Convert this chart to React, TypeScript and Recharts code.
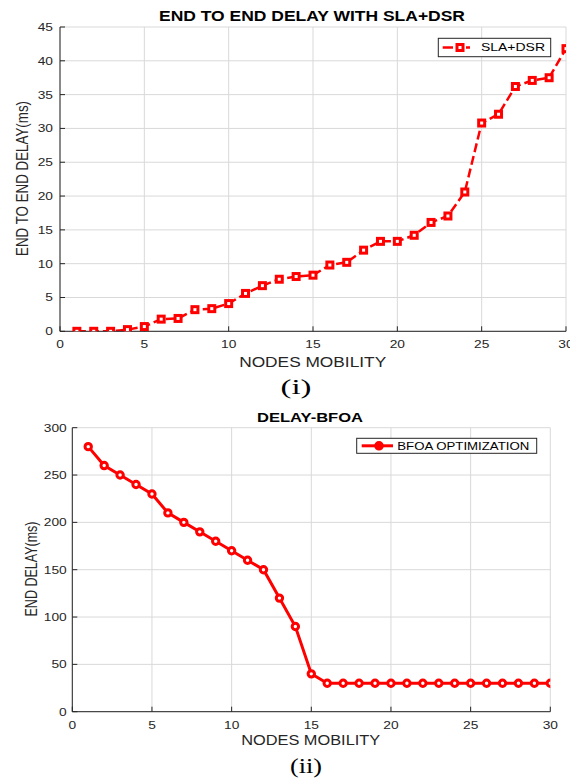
import React from 'react';
import { LineChart, Line, XAxis, YAxis, CartesianGrid } from 'recharts';

// ---------- data ----------
const mobility = [1, 2, 3, 4, 5, 6, 7, 8, 9, 10, 11, 12, 13, 14, 15, 16, 17, 18, 19, 20, 21, 22, 23, 24, 25, 26, 27, 28, 29, 30];
const slaDsrDelay = [0, 0, 0, 0.25, 0.7, 1.8, 1.9, 3.2, 3.35, 4.1, 5.6, 6.75, 7.7, 8.1, 8.3, 9.8, 10.2, 12.0, 13.3, 13.3, 14.2, 16.1, 17.05, 20.6, 30.8, 32.1, 36.2, 37.1, 37.5, 41.8];
const bfoaDelay = [280, 260, 250, 240, 230, 210, 200, 190, 180, 170, 160, 150, 120, 90, 40, 30, 30, 30, 30, 30, 30, 30, 30, 30, 30, 30, 30, 30, 30, 30];
const xTicks = [0, 5, 10, 15, 20, 25, 30];
const slaYTicks = [0, 5, 10, 15, 20, 25, 30, 35, 40, 45];
const bfoaYTicks = [0, 50, 100, 150, 200, 250, 300];

const slaData = mobility.map((m, i) => ({ x: m, y: slaDsrDelay[i] }));
const bfoaData = mobility.map((m, i) => ({ x: m, y: bfoaDelay[i] }));

const FONT = "'Liberation Sans', Arial, Helvetica, sans-serif";
const SERIF = "'Liberation Serif', 'Times New Roman', serif";
const RED = '#ff0000';
const AX = '#262626';
const GRID = '#d9d9d9';

const XTick = (props: any) => {
  const { x, y, payload } = props;
  return (
    <g transform={`translate(${x},${y})`}>
      <text transform="scale(1.25,1)" textAnchor="middle" dy="0.71em" fontSize={11} fill={AX} fontFamily={FONT}>
        {payload.value}
      </text>
    </g>
  );
};

const YTick = (props: any) => {
  const { x, y, payload } = props;
  return (
    <g transform={`translate(${x},${y})`}>
      <text transform="scale(1.25,1)" textAnchor="end" dy="0.36em" fontSize={11} fill={AX} fontFamily={FONT}>
        {payload.value}
      </text>
    </g>
  );
};

const SquareDot = (props: any) => {
  const { cx, cy, index } = props;
  if (cx == null || cy == null) return null;
  return (
    <rect key={`sq-${index}`} x={cx - 3} y={cy - 3} width={6} height={6} fill="#fff" stroke={RED} strokeWidth={3} />
  );
};

const CircleDot = (props: any) => {
  const { cx, cy, index } = props;
  if (cx == null || cy == null) return null;
  return <circle key={`ci-${index}`} cx={cx} cy={cy} r={3.2} fill="#fff" stroke={RED} strokeWidth={3} />;
};

const axisLine = { stroke: AX, strokeWidth: 1 };
const tickLine = { stroke: AX, strokeWidth: 1 };

export default function App() {
  return (
    <div style={{ position: 'absolute', left: 0, top: 0, width: 570, height: 781, background: '#fff' }}>
      <div style={{ position: 'absolute', left: 0, top: 0 }}>
        <LineChart width={570} height={390} data={slaData} margin={{ top: 27, right: 4, left: 0, bottom: 28.7 }}>
          <CartesianGrid stroke={GRID} strokeWidth={1} />
          <XAxis dataKey="x" type="number" domain={[0, 30]} ticks={xTicks} interval={0} height={30}
            tickSize={-5} tickMargin={14} tick={<XTick />} axisLine={axisLine} tickLine={tickLine} allowDataOverflow />
          <XAxis xAxisId="top" orientation="top" dataKey="x" type="number" domain={[0, 30]} ticks={xTicks} interval={0}
            height={0} tickSize={-5} tick={false} axisLine={axisLine} tickLine={tickLine} allowDataOverflow />
          <YAxis type="number" domain={[0, 45]} ticks={slaYTicks} interval={0} width={60}
            tickSize={-5} tickMargin={12} tick={<YTick />} axisLine={axisLine} tickLine={tickLine} allowDataOverflow />
          <YAxis yAxisId="right" orientation="right" type="number" domain={[0, 45]} ticks={slaYTicks} interval={0} width={0}
            tickSize={-5} tick={false} axisLine={axisLine} tickLine={tickLine} allowDataOverflow />
          <Line xAxisId="top" yAxisId="right" dataKey="y" stroke="none" dot={false} activeDot={false} isAnimationActive={false} legendType="none" />
          <Line dataKey="y" stroke={RED} strokeWidth={2.5} strokeDasharray="9 4" dot={<SquareDot />} activeDot={false} isAnimationActive={false} />
        </LineChart>
      </div>
      <div style={{ position: 'absolute', left: 0, top: 390 }}>
        <LineChart width={570} height={391} data={bfoaData} margin={{ top: 37.7, right: 19.7, left: 0, bottom: 39.3 }}>
          <CartesianGrid stroke={GRID} strokeWidth={1} />
          <XAxis dataKey="x" type="number" domain={[0, 30]} ticks={xTicks} interval={0} height={30}
            tickSize={-5} tickMargin={14} tick={<XTick />} axisLine={axisLine} tickLine={tickLine} allowDataOverflow />
          <XAxis xAxisId="top" orientation="top" dataKey="x" type="number" domain={[0, 30]} ticks={xTicks} interval={0}
            height={0} tickSize={-5} tick={false} axisLine={axisLine} tickLine={tickLine} allowDataOverflow />
          <YAxis type="number" domain={[0, 300]} ticks={bfoaYTicks} interval={0} width={72.3}
            tickSize={-5} tickMargin={10.6} tick={<YTick />} axisLine={axisLine} tickLine={tickLine} allowDataOverflow />
          <YAxis yAxisId="right" orientation="right" type="number" domain={[0, 300]} ticks={bfoaYTicks} interval={0} width={0}
            tickSize={-5} tick={false} axisLine={axisLine} tickLine={tickLine} allowDataOverflow />
          <Line xAxisId="top" yAxisId="right" dataKey="y" stroke="none" dot={false} activeDot={false} isAnimationActive={false} legendType="none" />
          <Line dataKey="y" stroke={RED} strokeWidth={3} dot={<CircleDot />} activeDot={false} isAnimationActive={false} />
        </LineChart>
      </div>
      <svg width={570} height={781} style={{ position: 'absolute', left: 0, top: 0, pointerEvents: 'none' }}>
        {/* chart (i) texts */}
        <text x={312} y={20.7} textAnchor="middle" fontWeight="bold" fontSize={14} fontFamily={FONT} fill="#000"
          textLength={306} lengthAdjust="spacingAndGlyphs">END TO END DELAY WITH SLA+DSR</text>
        <text transform="translate(28,178.5) rotate(-90)" textAnchor="middle" fontSize={17} fontFamily={FONT} fill={AX}
          textLength={155} lengthAdjust="spacingAndGlyphs">END TO END DELAY(ms)</text>
        <text x={312.7} y={366.7} textAnchor="middle" fontSize={14} fontFamily={FONT} fill={AX}
          textLength={147} lengthAdjust="spacingAndGlyphs">NODES MOBILITY</text>
        <text x={296} y={393.5} textAnchor="middle" fontSize={20} fontFamily={SERIF} fill="#000"
          textLength={31} lengthAdjust="spacingAndGlyphs">(i)</text>
        {/* legend (i) */}
        <rect x={438.3} y={38.3} width={112.4} height={18.4} fill="#fff" stroke={AX} strokeWidth={1} />
        <line x1={442.7} y1={47.5} x2={453} y2={47.5} stroke={RED} strokeWidth={2.5} />
        <line x1={466} y1={47.5} x2={470} y2={47.5} stroke={RED} strokeWidth={2.5} />
        <rect x={457} y={44.5} width={6} height={6} fill="#fff" stroke={RED} strokeWidth={3} />
        <text x={481} y={50.7} fontSize={11} fontFamily={FONT} fill="#000" textLength={64} lengthAdjust="spacingAndGlyphs">SLA+DSR</text>

        {/* chart (ii) texts */}
        <text x={310} y={422.3} textAnchor="middle" fontWeight="bold" fontSize={13} fontFamily={FONT} fill="#000"
          textLength={106} lengthAdjust="spacingAndGlyphs">DELAY-BFOA</text>
        <text transform="translate(36.5,569) rotate(-90)" textAnchor="middle" fontSize={17} fontFamily={FONT} fill={AX}
          textLength={95} lengthAdjust="spacingAndGlyphs">END DELAY(ms)</text>
        <text x={310.7} y={745} textAnchor="middle" fontSize={14} fontFamily={FONT} fill={AX}
          textLength={139} lengthAdjust="spacingAndGlyphs">NODES MOBILITY</text>
        <text x={306} y={772.5} textAnchor="middle" fontSize={22} fontFamily={SERIF} fill="#000"
          textLength={32} lengthAdjust="spacingAndGlyphs">(ii)</text>
        {/* legend (ii) */}
        <rect x={356.7} y={438.3} width={180} height={15} fill="#fff" stroke={AX} strokeWidth={1} />
        <line x1={361.7} y1={445.8} x2={393} y2={445.8} stroke={RED} strokeWidth={3} />
        <circle cx={379} cy={445.8} r={3.8} fill={RED} stroke={RED} strokeWidth={2} />
        <text x={397.3} y={449.5} fontSize={11} fontFamily={FONT} fill="#000" textLength={132} lengthAdjust="spacingAndGlyphs">BFOA OPTIMIZATION</text>
      </svg>
    </div>
  );
}
